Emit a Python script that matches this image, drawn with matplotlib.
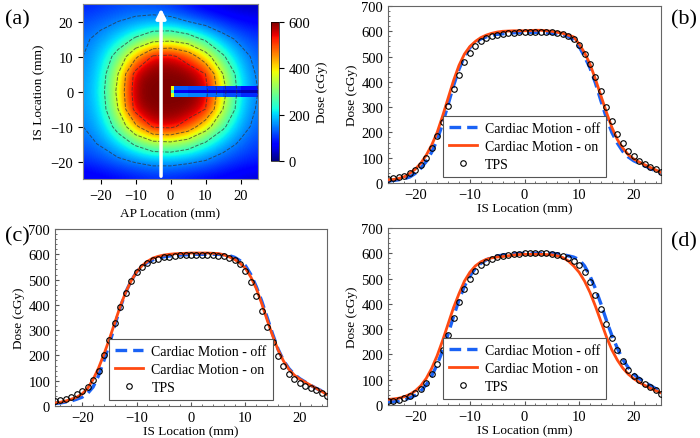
import numpy as np
import matplotlib.pyplot as plt
from matplotlib.ticker import AutoMinorLocator

plt.rcParams['font.family'] = ['Liberation Serif', 'DejaVu Serif']
plt.rcParams['font.size'] = 9.5
plt.rcParams['xtick.labelsize'] = 10.5
plt.rcParams['ytick.labelsize'] = 10.5

# ---- (a) dose map, coarse grid (5 mm steps) ----
ap_grid = [-25, -20, -15, -10, -5, 0, 5, 10, 15, 20, 25]
is_grid = [25, 20, 15, 10, 5, 0, -5, -10, -15, -20, -25]
dose_map = [
    [90, 100, 110, 115, 110, 100, 75, 55, 40, 30, 30],
    [120, 135, 150, 165, 175, 170, 150, 125, 100, 80, 70],
    [140, 165, 205, 260, 310, 320, 290, 235, 175, 135, 110],
    [150, 195, 280, 430, 560, 570, 510, 390, 260, 175, 130],
    [160, 205, 350, 580, 600, 600, 600, 550, 350, 205, 140],
    [165, 215, 370, 595, 600, 600, 600, 575, 380, 215, 150],
    [160, 205, 350, 580, 600, 600, 600, 550, 350, 205, 140],
    [150, 185, 280, 430, 560, 570, 510, 390, 265, 175, 130],
    [130, 155, 200, 260, 310, 320, 290, 235, 180, 140, 110],
    [100, 115, 135, 155, 170, 170, 160, 145, 120, 100, 90],
    [50, 60, 70, 80, 90, 90, 80, 70, 60, 50, 40],
]
# catheter channel (low dose strip along AP at IS ~ 0)
chan_x = [0, 1, 5, 10, 15, 20, 25]
chan_y = [-1.5, -0.5, 0.5, 1.5]
chan_dose = [
    [380, 130, 120, 110, 100, 80],
    [250, 60, 50, 50, 40, 30],
    [380, 160, 150, 140, 120, 100],
]
iso_levels = [150, 250, 350, 450, 550]
arrow_ap = -2.7

# ---- profiles ----
x_is = list(range(-25, 26))

b_tps = [15, 18, 22, 28, 38, 52, 72, 98, 137, 185, 240, 304, 370, 429, 478, 514, 540, 560, 572, 580,
         586, 590, 593, 595, 597, 598, 598, 598, 598, 597, 596, 594, 590, 583, 570, 545, 512, 470, 420, 362,
         302, 245, 195, 158, 128, 105, 88, 75, 65, 55, 42]
b_off = [8, 10, 13, 17, 24, 38, 58, 85, 122, 170, 235, 310, 385, 450, 500, 535, 557, 570, 578, 584,
         588, 590, 592, 594, 595, 596, 596, 596, 595, 594, 592, 590, 587, 580, 565, 540, 500, 455, 395, 325,
         258, 200, 158, 125, 103, 88, 78, 68, 58, 48, 38]
b_on = [12, 14, 18, 25, 38, 55, 78, 110, 150, 200, 265, 335, 405, 465, 510, 540, 560, 575, 585, 592,
        597, 600, 601, 602, 602, 602, 603, 604, 604, 602, 600, 596, 592, 585, 578, 550, 515, 470, 410, 345,
        280, 220, 172, 138, 112, 95, 83, 72, 62, 52, 42]

c_tps = [18, 24, 29, 36, 46, 58, 77, 102, 139, 200, 262, 328, 390, 446, 493, 528, 551, 566, 576, 583,
         588, 591, 594, 596, 597, 598, 598, 598, 597, 596, 595, 592, 587, 578, 562, 535, 492, 436, 376, 314,
         254, 198, 158, 128, 106, 92, 80, 70, 62, 52, 40]
c_off = [10, 12, 16, 20, 27, 35, 50, 75, 120, 180, 245, 320, 390, 450, 495, 530, 553, 568, 578, 585,
         590, 593, 595, 597, 598, 599, 600, 600, 600, 600, 600, 598, 595, 588, 575, 555, 520, 472, 415, 350,
         285, 225, 180, 148, 125, 108, 95, 82, 70, 60, 50]
c_on = [12, 15, 20, 27, 35, 48, 70, 105, 150, 205, 265, 330, 395, 450, 495, 530, 555, 572, 585, 592,
        597, 600, 602, 603, 604, 605, 605, 605, 605, 604, 603, 598, 590, 580, 565, 545, 510, 465, 405, 340,
        278, 222, 178, 145, 122, 106, 94, 82, 70, 58, 45]

d_tps = [14, 16, 21, 28, 36, 48, 62, 88, 122, 164, 218, 277, 343, 407, 459, 500, 531, 552, 566, 576,
         584, 590, 594, 597, 598, 600, 600, 600, 600, 600, 598, 595, 590, 582, 570, 554, 526, 485, 435, 379,
         321, 266, 217, 173, 140, 116, 98, 85, 72, 60, 45]
d_off = [12, 13, 16, 20, 28, 38, 55, 80, 115, 160, 215, 280, 350, 415, 470, 510, 540, 560, 574, 583,
         589, 593, 596, 598, 599, 600, 600, 600, 600, 600, 600, 598, 595, 590, 585, 575, 550, 510, 460, 400,
         335, 275, 225, 180, 148, 122, 105, 90, 78, 65, 50]
d_on = [22, 24, 27, 33, 42, 56, 76, 105, 145, 195, 255, 320, 385, 440, 490, 525, 550, 566, 576, 582,
        585, 587, 590, 593, 595, 596, 596, 596, 596, 595, 594, 590, 583, 570, 550, 525, 490, 445, 390, 330,
        270, 218, 178, 146, 122, 104, 90, 78, 67, 57, 48]

W, H = 700, 439
fig = plt.figure(figsize=(W / 100, H / 100), dpi=100)


def px(l, t, w, h):
    return [l / W, 1 - (t + h) / H, w / W, h / H]


# ---- panel (a) ----
ax_a = fig.add_axes(px(83, 5, 175, 175))
im = ax_a.imshow(np.array(dose_map), cmap='jet', vmin=0, vmax=600, interpolation='bicubic',
                 extent=[-25 - 2.5, 25 + 2.5, -25 - 2.5, 25 + 2.5], origin='upper')
ax_a.pcolormesh(chan_x, chan_y, np.array(chan_dose)[::-1], cmap='jet', vmin=0, vmax=600)
ax_a.contour(ap_grid, is_grid, np.array(dose_map), levels=iso_levels, colors='#333333',
             linestyles='--', linewidths=0.7, alpha=0.7)
ax_a.annotate('', xy=(arrow_ap, 24.5), xytext=(arrow_ap, -25),
              arrowprops=dict(arrowstyle='-|>', color='white', lw=2.5, mutation_scale=14))
ax_a.set_xlim(-25, 25)
ax_a.set_ylim(-25, 25)
ax_a.set_aspect('auto')
ax_a.set_xticks([-20, -10, 0, 10, 20])
ax_a.set_yticks([-20, -10, 0, 10, 20])
ax_a.set_xlabel('AP Location (mm)')
ax_a.set_ylabel('IS Location (mm)')
for s in ax_a.spines.values():
    s.set_color('#888888')

cax = fig.add_axes(px(271, 23, 8, 139))
cb = fig.colorbar(im, cax=cax, ticks=[0, 200, 400, 600])
cb.set_label('Dose (cGy)')
cb.outline.set_linewidth(0.5)


def profile(rect, tps, off, on):
    ax = fig.add_axes(px(*rect))
    ax.plot(x_is, off, '--', color='#1a62f5', lw=2.4, dashes=(3.5, 1.8), label='Cardiac Motion - off', zorder=3)
    ax.plot(x_is, on, '-', color='#ff4a12', lw=2.0, label='Cardiac Motion - on', zorder=4)
    ax.plot(x_is, tps, 'o', mfc='none', mec='black', ms=4, mew=0.8, label='TPS', zorder=5)
    ax.set_xlim(-25, 25)
    ax.set_ylim(0, 700)
    ax.set_xticks([-20, -10, 0, 10, 20])
    ax.set_yticks(range(0, 701, 100))
    ax.xaxis.set_minor_locator(AutoMinorLocator(5))
    ax.yaxis.set_minor_locator(AutoMinorLocator(5))
    ax.tick_params(which='both', direction='in', color='#555555')
    ax.tick_params(which='major', length=3)
    ax.tick_params(which='minor', length=1.5)
    ax.set_xticklabels(['\u221220', '\u221210', '0', '10', '20'])
    ax.set_xlabel('IS Location (mm)', labelpad=1)
    ax.set_ylabel('Dose (cGy)', labelpad=2)
    for s in ax.spines.values():
        s.set_color('#666666')
    leg = ax.legend(loc='lower center', bbox_to_anchor=(0.5, 0.035), handlelength=2.0,
                    fancybox=False, edgecolor='#555555', framealpha=1, fontsize=10,
                    borderpad=0.45, labelspacing=0.35, handletextpad=0.6, borderaxespad=0)
    leg.get_frame().set_linewidth(0.8)
    return ax


profile((388, 7, 273, 177), b_tps, b_off, b_on)
profile((55, 230, 272, 177), c_tps, c_off, c_on)
profile((388, 229, 273, 177), d_tps, d_off, d_on)

fig.text(5 / W, 1 - 20 / H, '(a)', fontsize=16, va='center', ha='left')
fig.text(697 / W, 1 - 20 / H, '(b)', fontsize=16, va='center', ha='right')
fig.text(5 / W, 1 - 237 / H, '(c)', fontsize=16, va='center', ha='left')
fig.text(697 / W, 1 - 242 / H, '(d)', fontsize=16, va='center', ha='right')

fig.savefig('out.png', dpi=100)
